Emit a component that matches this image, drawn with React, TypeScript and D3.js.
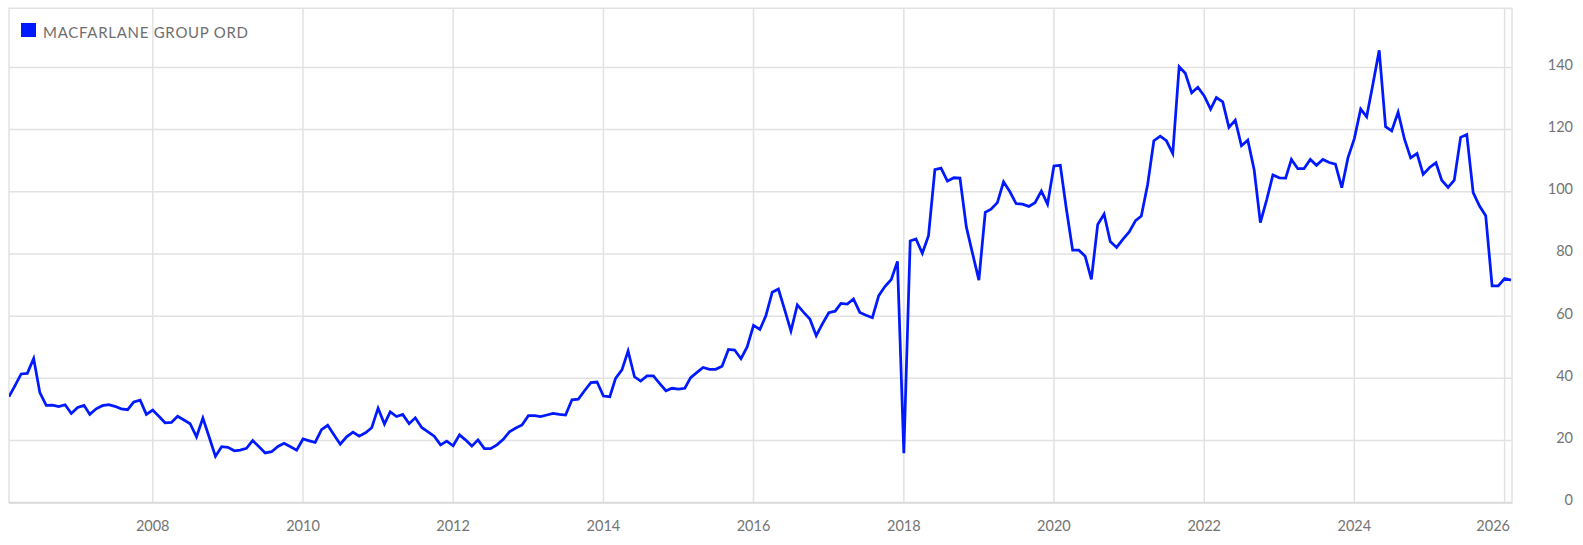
import React from "react";
import * as d3 from "d3";

const SERIES_NAME = "MACFARLANE GROUP ORD";
const START_MONTH = new Date(2006, 1, 1);
const END_MONTH = new Date(2026, 1, 1);
const X_TICK_YEARS = [2008, 2010, 2012, 2014, 2016, 2018, 2020, 2022, 2024, 2026];
const Y_TICKS = [0, 20, 40, 60, 80, 100, 120, 140];
const Y_MAX = 159;

const PRICES = [
  34.1, 37.5, 41.4, 41.6, 46.4, 35.4, 31.3, 31.4, 30.9, 31.5, 28.7, 30.6,
  31.3, 28.4, 30.2, 31.2, 31.5, 31.0, 30.2, 29.9, 32.4, 33.0, 28.4, 29.8,
  27.7, 25.7, 25.8, 27.8, 26.6, 25.4, 21.2, 27.2, 21.2, 14.9, 18.0, 17.8,
  16.7, 16.9, 17.5, 20.0, 18.0, 16.0, 16.4, 18.1, 19.1, 18.0, 16.9, 20.5,
  19.9, 19.4, 23.5, 24.9, 21.8, 18.8, 21.2, 22.7, 21.4, 22.5, 24.1, 30.4,
  25.3, 29.2, 27.7, 28.4, 25.4, 27.3, 24.2, 22.8, 21.4, 18.6, 19.8, 18.3,
  21.8, 20.2, 18.2, 20.2, 17.4, 17.4, 18.6, 20.4, 22.8, 24.0, 25.0, 28.0,
  28.0, 27.7, 28.2, 28.7, 28.4, 28.2, 33.1, 33.3, 36.0, 38.6, 38.8, 34.3,
  34.1, 40.0, 42.7, 48.8, 40.5, 39.1, 40.8, 40.8, 38.4, 36.0, 36.8, 36.5,
  36.8, 40.2, 41.9, 43.5, 42.9, 42.9, 43.9, 49.3, 49.1, 46.3, 50.1, 57.0,
  55.7, 60.1, 67.7, 68.7, 61.9, 55.2, 63.6, 61.2, 59.1, 53.7, 57.5, 61.1,
  61.6, 64.1, 63.9, 65.5, 61.2, 60.3, 59.5, 66.6, 69.5, 71.8, 77.6, 15.9,
  84.2, 84.8, 80.2, 85.9, 107.1, 107.6, 103.4, 104.5, 104.4, 88.7, 80.2, 71.6,
  93.4, 94.4, 96.5, 103.2, 100.0, 96.2, 96.0, 95.3, 96.5, 100.2, 96.0, 108.3,
  108.5, 94.7, 81.2, 81.2, 79.3, 71.8, 89.5, 92.8, 84.0, 82.1, 84.7, 87.1,
  90.7, 92.2, 102.4, 116.4, 117.9, 116.4, 112.3, 140.2, 138.1, 131.8, 133.6, 130.8,
  126.6, 130.3, 128.9, 120.7, 123.0, 114.8, 116.6, 107.0, 90.1, 97.5, 105.4, 104.5,
  104.4, 110.4, 107.4, 107.4, 110.4, 108.5, 110.4, 109.4, 108.9, 101.3, 110.9, 117.1,
  126.6, 124.1, 134.8, 145.5, 120.9, 119.6, 125.6, 116.9, 110.9, 112.3, 105.6, 107.8,
  109.3, 103.7, 101.4, 103.7, 117.5, 118.4, 99.7, 95.4, 92.3, 69.7, 69.7, 72.1,
  71.6,
];

const W = 1583;
const H = 545;
const LEFT = 9;
const RIGHT = 1512;
const TOP = 8.3;
const BOTTOM = 502.7;
const LINE_COLOR = "#0019ff";
const GRID = "#e2e2e2";
const FONT = "Lato, 'Open Sans', sans-serif";

export default function App() {
  const months = d3.timeMonth.range(START_MONTH, d3.timeMonth.offset(END_MONTH, 1));
  const data = months.map((d, i) => ({ date: d, value: PRICES[i] })).filter((d) => d.value != null);

  const x = d3.scaleTime().domain([START_MONTH, END_MONTH]).range([LEFT, RIGHT - 1]);
  const y = d3.scaleLinear().domain([0, Y_MAX]).range([BOTTOM, TOP]);

  const line = d3
    .line<{ date: Date; value: number }>()
    .x((d) => x(d.date))
    .y((d) => y(d.value))
    .curve(d3.curveLinear);

  return (
    <svg
      width={W}
      height={H}
      style={{ position: "absolute", left: 0, top: 0, background: "#fff" }}
      fontFamily={FONT}
    >
      <rect x={0} y={0} width={W} height={H} fill="#fff" />
      {Y_TICKS.map((t) => (
        <line key={"h" + t} x1={LEFT} x2={RIGHT} y1={y(t)} y2={y(t)} stroke={GRID} strokeWidth={1.5} />
      ))}
      {X_TICK_YEARS.map((yr) => {
        const xx = x(new Date(yr, 0, 1));
        return <line key={"v" + yr} x1={xx} x2={xx} y1={TOP} y2={BOTTOM} stroke={GRID} strokeWidth={1.5} />;
      })}
      <rect x={LEFT} y={TOP} width={RIGHT - LEFT} height={BOTTOM - TOP} fill="none" stroke={GRID} strokeWidth={1.5} />
      <line x1={LEFT} x2={RIGHT} y1={BOTTOM} y2={BOTTOM} stroke="#dcdcdc" strokeWidth={2} />

      <defs>
        <clipPath id="plotclip">
          <rect x={LEFT} y={TOP} width={RIGHT - LEFT} height={BOTTOM - TOP} />
        </clipPath>
      </defs>
      <path
        d={line(data) || ""}
        fill="none"
        stroke={LINE_COLOR}
        strokeWidth={2.75}
        strokeLinejoin="miter"
        clipPath="url(#plotclip)"
      />

      {X_TICK_YEARS.map((yr, i) => {
        const xx = x(new Date(yr, 0, 1));
        const last = i === X_TICK_YEARS.length - 1;
        return (
          <text
            key={"xl" + yr}
            x={last ? RIGHT - 2 : xx}
            y={525}
            textAnchor={last ? "end" : "middle"}
            dominantBaseline="central"
            fontSize={14.5}
            fill="#737373"
          >
            {yr}
          </text>
        );
      })}
      {Y_TICKS.map((t) => (
        <text
          key={"yl" + t}
          x={1573}
          y={y(t) - 3}
          textAnchor="end"
          dominantBaseline="central"
          fontSize={14.5}
          fill="#737373"
        >
          {t}
        </text>
      ))}

      <rect x={21} y={23} width={15} height={14} fill={LINE_COLOR} />
      <text
        x={43}
        y={31.7}
        dominantBaseline="central"
        fontSize={15}
        fill="#6e6e6e"
        textLength={205}
        lengthAdjust="spacing"
      >
        {SERIES_NAME}
      </text>
    </svg>
  );
}
